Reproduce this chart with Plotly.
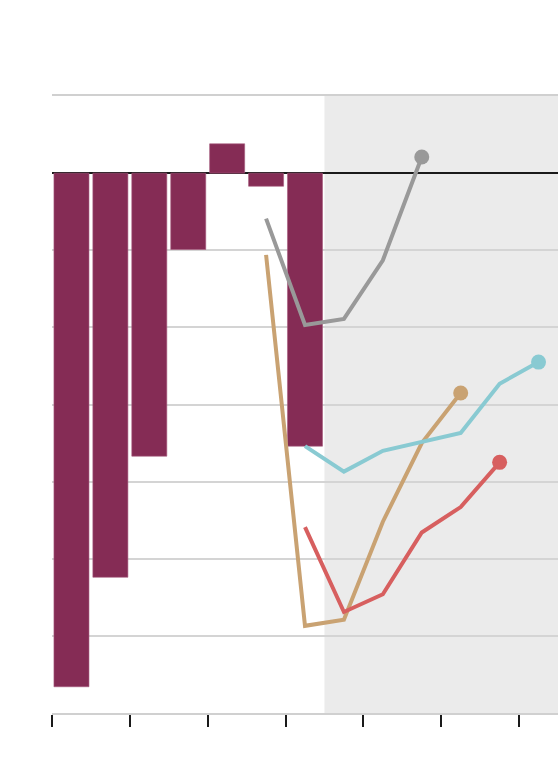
import plotly.graph_objects as go

# bar positions / values (y units = one gridline step)
bar_x = [0.5, 1.5, 2.5, 3.5, 4.5, 5.5, 6.5]
bar_y = [-6.66, -5.24, -3.67, -0.99, 0.38, -0.17, -3.54]

gray_x = [5.5, 6.5, 7.5, 8.5, 9.5]
gray_y = [-0.59, -1.97, -1.89, -1.13, 0.21]

tan_x = [5.5, 6.5, 7.5, 8.5, 9.5, 10.5]
tan_y = [-1.06, -5.87, -5.79, -4.52, -3.5, -2.85]

red_x = [6.5, 7.5, 8.5, 9.5, 10.5, 11.5]
red_y = [-4.59, -5.69, -5.46, -4.66, -4.33, -3.75]

teal_x = [6.5, 7.5, 8.5, 9.5, 10.5, 11.5, 12.5]
teal_y = [-3.54, -3.87, -3.6, -3.48, -3.37, -2.73, -2.45]

BAR = "#852c55"

fig = go.Figure()
fig.add_trace(go.Bar(x=bar_x, y=bar_y, marker=dict(color=BAR, line=dict(color="#a65a7e", width=0.6)),
                     width=0.9, showlegend=False, hoverinfo="skip"))

for xs, ys, col in [(gray_x, gray_y, "#999999"), (tan_x, tan_y, "#c9a272"),
                    (red_x, red_y, "#d75f5f"), (teal_x, teal_y, "#89cad2")]:
    fig.add_trace(go.Scatter(x=xs, y=ys, mode="lines", line=dict(color=col, width=4),
                             showlegend=False, hoverinfo="skip"))
    fig.add_trace(go.Scatter(x=[xs[-1]], y=[ys[-1]], mode="markers",
                             marker=dict(color=col, size=15), showlegend=False, hoverinfo="skip"))

fig.add_shape(type="rect", xref="x", yref="y", x0=7, x1=13, y0=-7, y1=1,
              fillcolor="#ebebeb", line_width=0, layer="below")

fig.update_layout(
    width=560, height=760,
    margin=dict(l=52, r=2, t=96, b=47),
    plot_bgcolor="white", paper_bgcolor="white",
    xaxis=dict(range=[0, 13], tickvals=[0, 2, 4, 6, 8, 10, 12], showticklabels=False,
               ticks="outside", ticklen=12, tickwidth=2, tickcolor="#1a1a1a",
               showgrid=False, zeroline=False, showline=True, mirror=True,
               linecolor="#d0d0d0", linewidth=2),
    yaxis=dict(range=[-7, 1], dtick=1, showticklabels=False, showgrid=True,
               gridcolor="#d4d4d4", gridwidth=2, zeroline=True, zerolinecolor="#1a1a1a",
               zerolinewidth=2, showline=False),
)

# drop the default 8px body margin so the 560x760 figure fills the window
fig.write_html("out.html", config={"displayModeBar": False},
               post_script="document.body.style.margin='0px';")
